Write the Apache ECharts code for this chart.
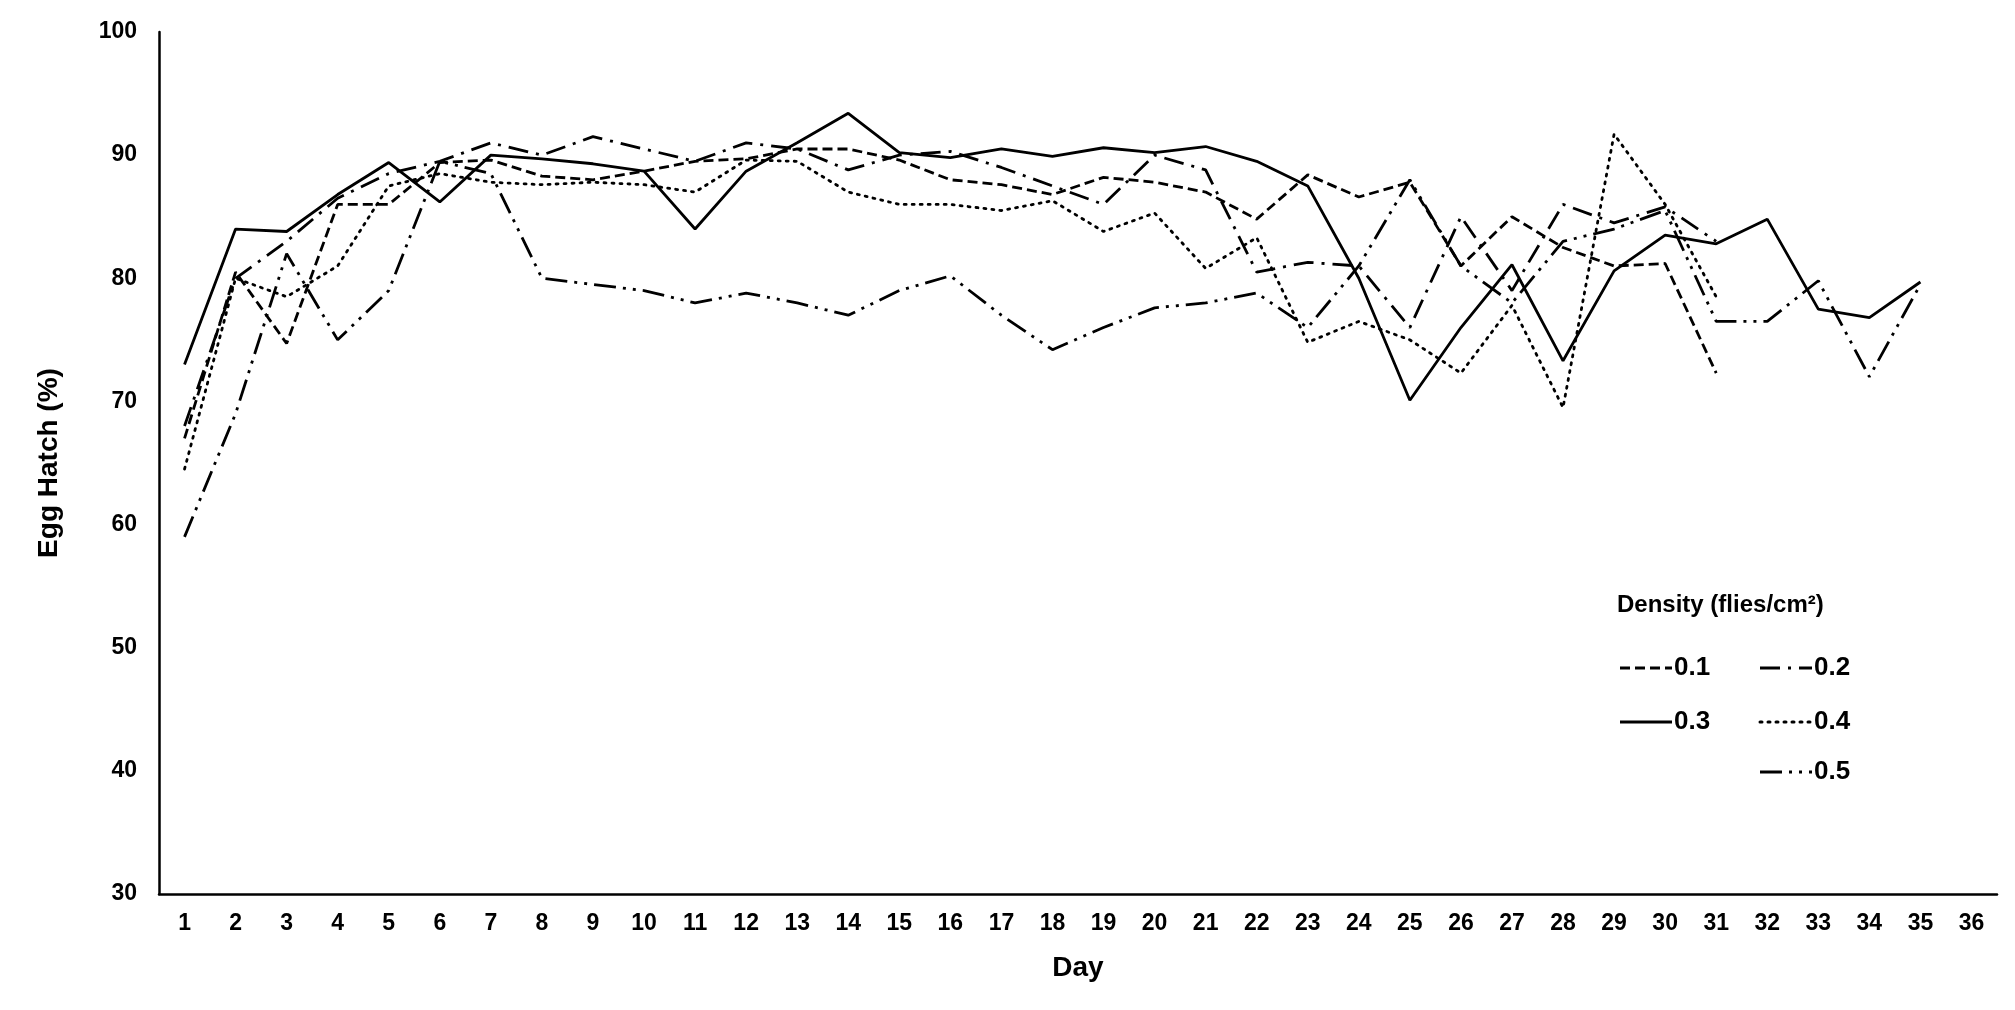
<!DOCTYPE html>
<html><head><meta charset="utf-8">
<script src="https://cdn.jsdelivr.net/npm/echarts@6/dist/echarts.min.js"></script>
<style>html,body{margin:0;background:#fff}#c{width:2015px;height:1010px}</style>
</head><body><div id="c"></div>
<script>
const days = Array.from({length:36},(_,i)=>String(i+1));
const d01 = [67,80.5,74.7,86,86,89.4,89.6,88.3,88,88.7,89.5,89.7,90.5,90.5,89.6,88,87.6,86.8,88.2,87.8,87,84.8,88.4,86.6,87.8,81,85,82.5,81,81.2,72.3];
const d02 = [68,80,83,86.5,88.5,89.5,91,90,91.5,90.5,89.5,91,90.5,88.8,90,90.3,89,87.5,86,90,88.8,80.5,81.3,81,76,85,79,86,84.5,85.8,83];
const d03 = [73,84,83.8,86.8,89.4,86.2,90,89.7,89.3,88.7,84,88.7,91,93.4,90.2,89.8,90.5,89.9,90.6,90.2,90.7,89.5,87.5,80,70.1,76,81.1,73.3,80.6,83.5,82.8,84.8,77.5,76.8,79.7];
const d04 = [64.5,80,78.5,81,87.5,88.5,87.8,87.6,87.8,87.6,87,89.6,89.5,87,86,86,85.5,86.3,83.8,85.3,80.8,83.3,74.8,76.5,75,72.3,77.8,69.5,91.7,86,78.5];
const d05 = [59,69,82,75,79,89.5,88.5,80,79.5,79,78,78.8,78,77,79,80.2,77,74.2,76,77.6,78,78.8,76,81,88,81,78,83,84,85.5,76.5,76.5,79.8,72,79.5];
const names = ['0.1','0.2','0.3','0.4','0.5'];
const dashes = [[10,5],[20,8,3,8],'solid',[2,6],[22,7,3,7,3,7]];
const datas = [d01,d02,d03,d04,d05];
const font = 'Arial, Liberation Sans, sans-serif';
const series = names.map((n,i)=>({name:n,type:'line',data:datas[i],symbol:'none',
  lineStyle:{color:'#000',width:2.8,type:dashes[i],cap: i===3?'round':'butt'},itemStyle:{color:'#000'}}));
// legend entries: [series index, x, y]
const legPos = [[0,1620,668],[1,1760,668],[2,1620,722],[3,1760,722],[4,1760,772]];
const graphic = [];
legPos.forEach(([i,x,y])=>{
  graphic.push({type:'line',shape:{x1:x,y1:y,x2:x+52,y2:y},
    style:{stroke:'#000',lineWidth:3,lineDash: dashes[i]==='solid'?null:dashes[i],lineCap:i===3?'round':'butt'}});
  graphic.push({type:'text',x:x+54,y:y,style:{text:names[i],font:'bold 26px '+font,fill:'#000',textVerticalAlign:'middle',verticalAlign:'middle'}});
});
const chart = echarts.init(document.getElementById('c'));
chart.setOption({
  animation:false,
  grid:{left:159,right:18,top:32,bottom:116},
  title:{text:'Density (flies/cm²)',left:1612,top:588,textStyle:{fontFamily:font,fontSize:24,fontWeight:'bold',color:'#000'}},
  graphic,
  xAxis:{type:'category',data:days,boundaryGap:true,name:'Day',nameLocation:'middle',nameGap:60,
    nameTextStyle:{fontFamily:font,fontSize:28,fontWeight:'bold',color:'#000'},
    axisLine:{lineStyle:{color:'#000',width:2.5}},axisTick:{show:false},
    axisLabel:{fontFamily:font,fontSize:23,fontWeight:'bold',color:'#000',margin:18,interval:0}},
  yAxis:{type:'value',min:30,max:100,interval:10,name:'Egg Hatch (%)',nameLocation:'middle',nameGap:96,
    nameTextStyle:{fontFamily:font,fontSize:28,fontWeight:'bold',color:'#000'},
    axisLine:{show:true,lineStyle:{color:'#000',width:2.5}},axisTick:{show:false},splitLine:{show:false},
    axisLabel:{fontFamily:font,fontSize:23,fontWeight:'bold',color:'#000',margin:22}},
  series
});
</script></body></html>
